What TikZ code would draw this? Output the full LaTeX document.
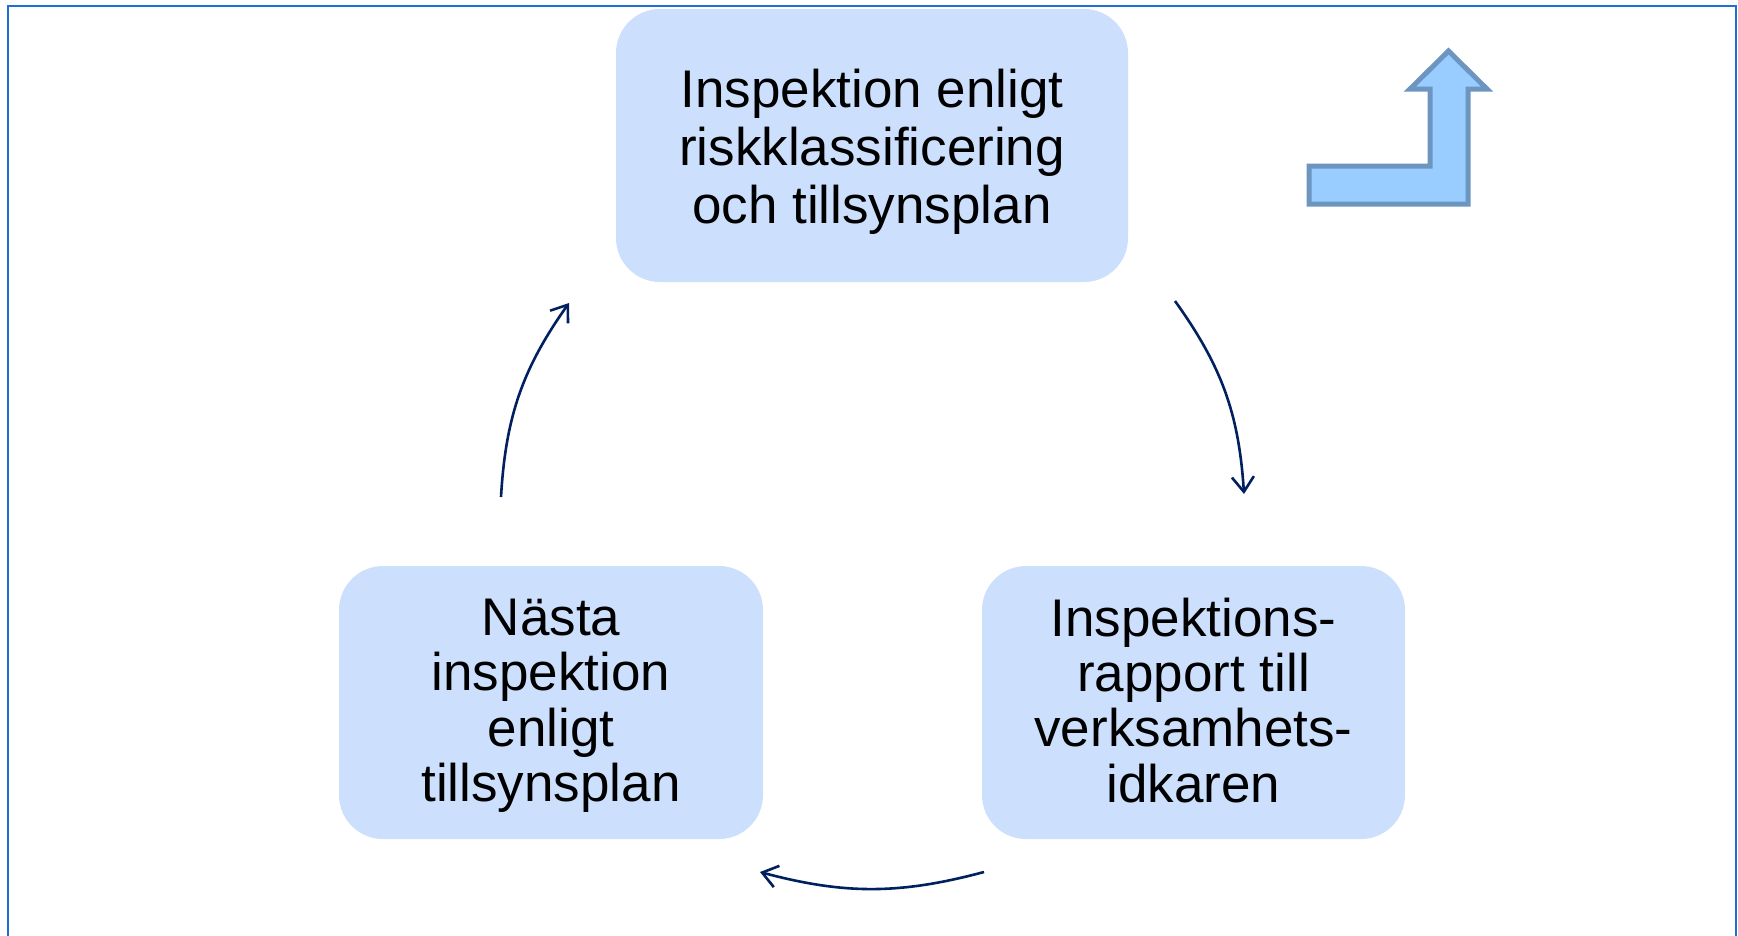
\documentclass[tikz,border=0pt]{standalone}
\usepackage{fontspec}
\setmainfont{Liberation Sans}
\usetikzlibrary{arrows.meta}
\definecolor{boxfill}{RGB}{204,224,254}
\definecolor{arrowcol}{RGB}{0,32,96}
\definecolor{framecol}{RGB}{30,112,210}
\definecolor{iconfill}{RGB}{153,204,255}
\definecolor{iconline}{RGB}{108,150,192}
\tikzset{
  stepbox/.style={fill=boxfill, draw=none, rounded corners=44pt,
    inner sep=0pt, minimum height=273pt},
  steptext/.style={align=center, inner sep=0pt,
    font=\fontsize{53}{55.4}\selectfont},
  cyclearrow/.style={draw=arrowcol, line width=2.6pt,
    -{Straight Barb[length=15pt,width=22pt,line width=2.6pt]}},
}
\begin{document}
\begin{tikzpicture}[x=1pt,y=1pt]
\useasboundingbox (0,0) rectangle (1738,-935);
\fill[white] (0,0) rectangle (1738,-935);
% frame
\draw[framecol, line width=2.2pt] (8,-940) -- (8,-6) -- (1736,-6) -- (1736,-940);
% boxes
\node[stepbox, minimum width=512pt] (top) at (872,-145.5) {};
\node[stepbox, minimum width=423pt] (right) at (1193.5,-702.5) {};
\node[stepbox, minimum width=424pt] (left) at (551,-702.5) {};
% texts
\node[steptext, font=\fontsize{53}{58}\selectfont, yshift=-6pt] (toptext) at (top)
  {Inspektion enligt\\riskklassificering\\och tillsynsplan};
\node[steptext, yshift=2.2pt] (righttext) at (right)
  {Inspektions-\\rapport till\\verksamhets-\\idkaren};
\node[steptext, yshift=-3.3pt] (lefttext) at (left)
  {Nästa\\inspektion\\enligt\\tillsynsplan};
% arrow endpoints
\coordinate (a1s) at (1175,-301);
\coordinate (a1e) at (1244,-494);
\coordinate (a2s) at (984,-872);
\coordinate (a2e) at (760,-872);
\coordinate (a3s) at (501,-497);
\coordinate (a3e) at (569,-303);
\draw[cyclearrow] (a1s) to[bend left=16] (a1e);
\draw[cyclearrow] (a2s) to[bend left=15] (a2e);
\draw[cyclearrow] (a3s) to[bend left=16] (a3e);
% bent-up arrow icon
\draw[fill=iconfill, draw=iconline, line width=5pt, miter limit=10]
  (1309,-204) -- (1309,-166) -- (1430,-166) -- (1430,-89) -- (1410,-89)
  -- (1448.5,-51) -- (1487,-89) -- (1468,-89) -- (1468,-204) -- cycle;
\end{tikzpicture}
\end{document}
